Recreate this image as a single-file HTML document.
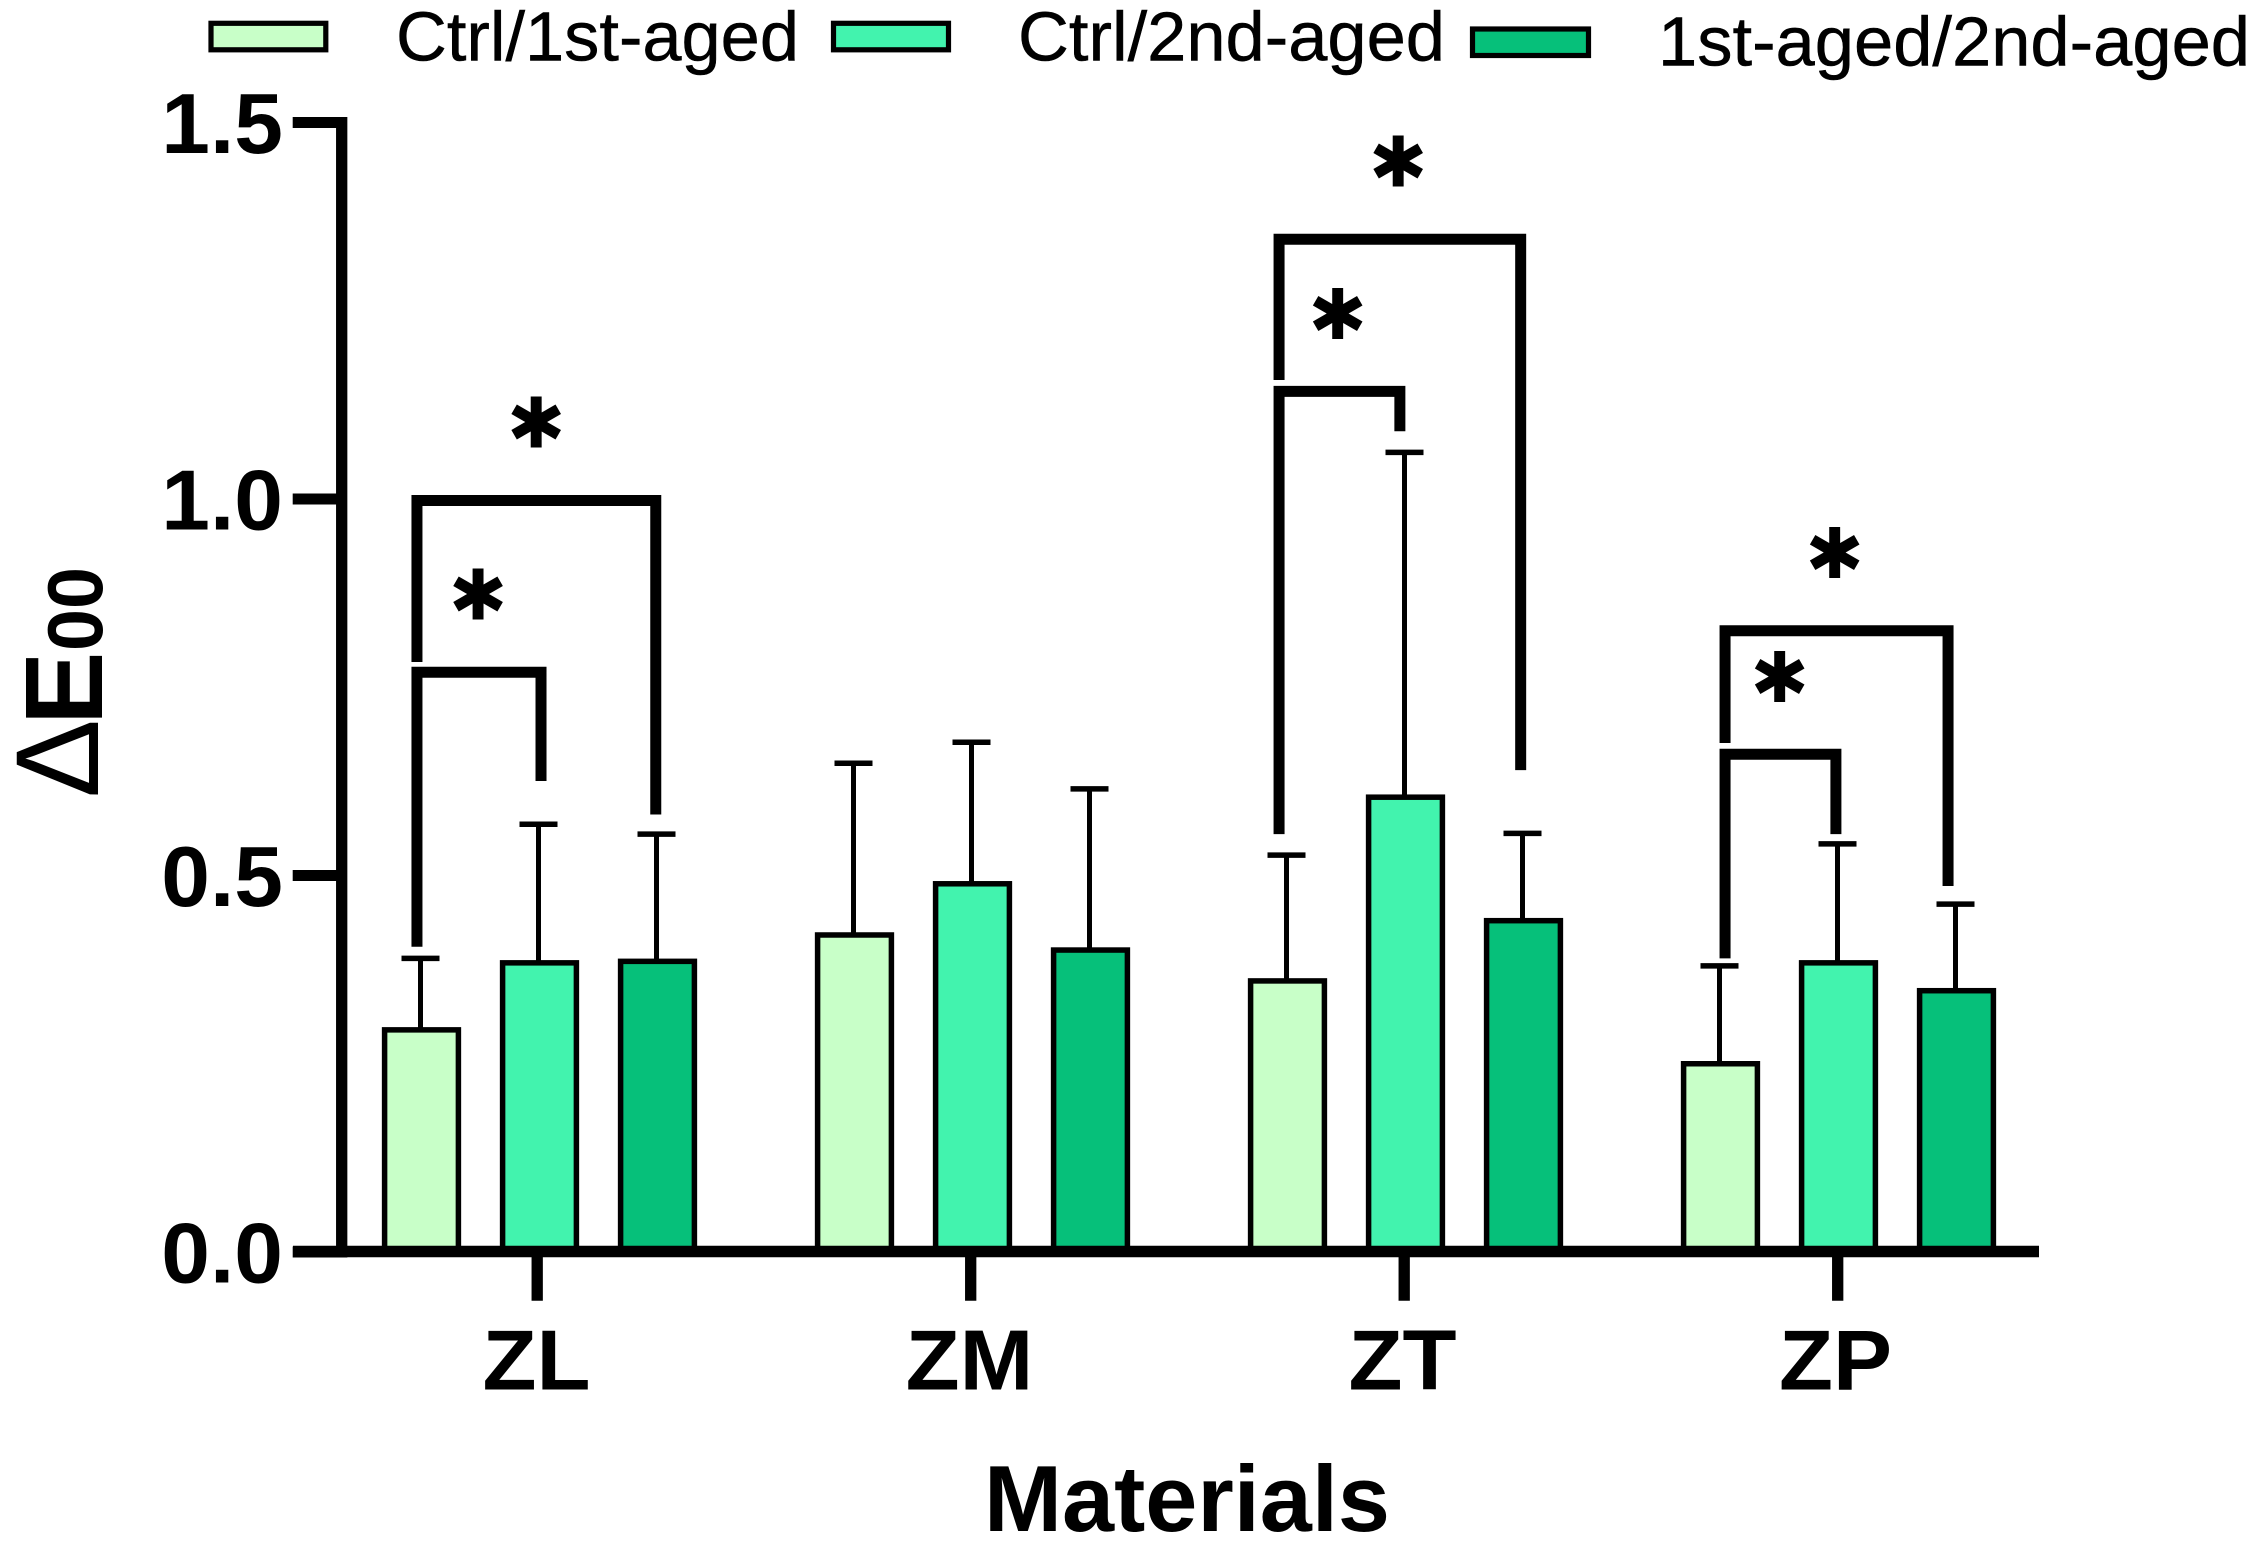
<!DOCTYPE html>
<html lang="en">
<head>
<meta charset="utf-8">
<title>ΔE00 by material</title>
<style>
html,body{margin:0;padding:0;background:#fff;}
svg{display:block;}
text{font-family:"Liberation Sans",sans-serif;fill:#000;}
.b{font-weight:bold;}
.leg{stroke:#000;stroke-width:0.5;}
</style>
</head>
<body>
<svg id="chart" xmlns="http://www.w3.org/2000/svg" width="2262" height="1553" viewBox="0 0 2262 1553">
  <rect x="0" y="0" width="2262" height="1553" fill="#fff"/>

  <g>
    <g>
      <rect x="211" y="23.3" width="114.8" height="26.5" fill="#C8FFC8" stroke="#000" stroke-width="5.2"/>
      <text class="leg" x="396" y="60.5" font-size="70" textLength="403" lengthAdjust="spacingAndGlyphs">Ctrl/1st-aged</text>
    </g>
    <g>
      <rect x="833.5" y="23.3" width="115" height="26.5" fill="#42F3AE" stroke="#000" stroke-width="5.2"/>
      <text class="leg" x="1018" y="60.5" font-size="70" textLength="427" lengthAdjust="spacingAndGlyphs">Ctrl/2nd-aged</text>
    </g>
    <g>
      <rect x="1472.5" y="29" width="116" height="26.5" fill="#06C07A" stroke="#000" stroke-width="5.2"/>
      <text class="leg" x="1658" y="65.5" font-size="70" textLength="592" lengthAdjust="spacingAndGlyphs">1st-aged/2nd-aged</text>
    </g>
  </g>

  <g>
    <text transform="translate(98,798) rotate(-90)" font-size="118">Δ</text>
    <text class="b" transform="translate(102,725) rotate(-90)" font-size="110">E</text>
    <text class="b" transform="translate(102,651) rotate(-90)" font-size="78" textLength="84" lengthAdjust="spacingAndGlyphs">00</text>
  </g>

  <text class="b" x="1187" y="1531" font-size="94" text-anchor="middle" textLength="406" lengthAdjust="spacingAndGlyphs">Materials</text>

  <g id="marks"></g>
</svg>

<script>
// ---- data ----
var categories = ['ZL', 'ZM', 'ZT', 'ZP'];
var seriesNames = ['Ctrl/1st-aged', 'Ctrl/2nd-aged', '1st-aged/2nd-aged'];
var seriesColors = ['#C8FFC8', '#42F3AE', '#06C07A'];
var ctrl1stMeans = [0.295, 0.421, 0.360, 0.250];
var ctrl2ndMeans = [0.384, 0.489, 0.604, 0.384];
var aged12Means = [0.386, 0.401, 0.440, 0.347];
var ctrl1stUpper = [0.390, 0.649, 0.527, 0.380];
var ctrl2ndUpper = [0.568, 0.677, 1.062, 0.542];
var aged12Upper = [0.555, 0.615, 0.556, 0.462];
var yTicks = [0, 0.5, 1.0, 1.5];
var yTickLabels = ['0.0', '0.5', '1.0', '1.5'];

// Significance brackets, in data units (category position / y value)
var bracketFrom = [-0.283, -0.283, 1.708, 1.708, 2.738, 2.738];
var bracketTo = [0.2685, 0.0035, 2.266, 1.987, 3.253, 2.994];
var bracketTop = [0.998, 0.770, 1.345, 1.143, 0.825, 0.661];
var bracketFromEnd = [0.7835, 0.4054, 1.158, 0.555, 0.676, 0.390];
var bracketToEnd = [0.581, 0.6255, 0.640, 1.090, 0.486, 0.555];
var starPos = [-0.008, -0.142, 1.983, 1.843, 2.991, 2.864];
var starValue = [1.101, 0.8725, 1.4475, 1.245, 0.9276, 0.763];

// ---- axis functions ----
function yScale(v) { return 1252 - 753 * v; }
function xCat(p) { return 539.5 + 433 * p; }
function xTick(g) { return 537.2 + 433.5 * g; }
function xBar(g, s) { return xCat(g) + (s - 1) * 118; }

var NS = 'http://www.w3.org/2000/svg';
var root = document.getElementById('marks');
function mk(tag, attrs, txt) {
  var el = document.createElementNS(NS, tag);
  for (var k in attrs) el.setAttribute(k, attrs[k]);
  if (txt !== undefined) el.textContent = txt;
  root.appendChild(el);
  return el;
}

var allMeans = [ctrl1stMeans, ctrl2ndMeans, aged12Means];
var allUpper = [ctrl1stUpper, ctrl2ndUpper, aged12Upper];
var barW = 73.8, el;

// bars + error bars
categories.forEach(function (cat, g) {
  seriesNames.forEach(function (name, s) {
    var cx = xBar(g, s);
    var top = yScale(allMeans[s][g]);
    var up = yScale(allUpper[s][g]);
    el = mk('line', { x1: cx - 1, x2: cx - 1, y1: up, y2: top, stroke: '#000', 'stroke-width': 5 });
    
    
    el = mk('line', { x1: cx - 20, x2: cx + 18, y1: up, y2: up, stroke: '#000', 'stroke-width': 5.5 });
    
    
    el = mk('rect', { x: cx - barW / 2, y: top, width: barW, height: yScale(0) - top, fill: seriesColors[s], stroke: '#000', 'stroke-width': 5.5 });
    
    
  });
});

// y axis
el = mk('line', { x1: 341.7, x2: 341.7, y1: yScale(1.5) - 5.5, y2: yScale(0) + 5.5, stroke: '#000', 'stroke-width': 11.3 });


yTicks.forEach(function (t, i) {
  el = mk('line', { x1: 292.7, x2: 341, y1: yScale(t), y2: yScale(t), stroke: '#000', 'stroke-width': 11 });
  
  
  el = mk('text', { x: 283, y: yScale(t) + 30.5, 'font-size': 85, 'font-weight': 'bold', 'text-anchor': 'end' }, yTickLabels[i]);
  
  
  el.setAttribute('lengthAdjust', 'spacingAndGlyphs');
  el.setAttribute('textLength', el.getComputedTextLength() * 1.03);
});

// x axis
el = mk('line', { x1: 293, x2: 2039, y1: yScale(0) - 0.5, y2: yScale(0) - 0.5, stroke: '#000', 'stroke-width': 11.6 });


categories.forEach(function (cat, g) {
  el = mk('line', { x1: xTick(g), x2: xTick(g), y1: yScale(0), y2: 1300.7, stroke: '#000', 'stroke-width': 11.3 });
  
  
  el = mk('text', { x: xCat(g) - 3, y: 1389.5, 'font-size': 85, 'font-weight': 'bold', 'text-anchor': 'middle' }, cat);
  
  
  el.setAttribute('lengthAdjust', 'spacingAndGlyphs');
  el.setAttribute('textLength', el.getComputedTextLength() * 1.04);
});

// significance brackets + stars
bracketTop.forEach(function (t, i) {
  var d = 'M' + xCat(bracketFrom[i]) + ' ' + yScale(bracketFromEnd[i]) +
          'V' + yScale(t) + 'H' + xCat(bracketTo[i]) + 'V' + yScale(bracketToEnd[i]);
  el = mk('path', { d: d, fill: 'none', stroke: '#000', 'stroke-width': 11, 'stroke-linejoin': 'miter' });
  
  
});
starPos.forEach(function (p, i) {
  el = mk('text', { x: xCat(p), y: yScale(starValue[i]) + 24.5, 'font-size': 70, 'text-anchor': 'middle', style: 'font-family:"DejaVu Sans",sans-serif;font-weight:bold' }, '\u2731');
  
  
});
</script>
</body>
</html>
